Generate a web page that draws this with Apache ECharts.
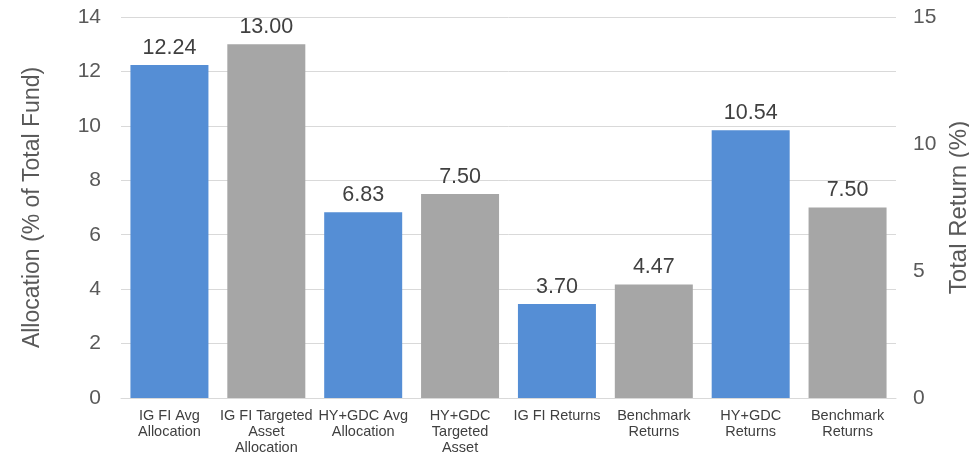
<!DOCTYPE html>
<html>
<head>
<meta charset="utf-8">
<script src="https://cdn.jsdelivr.net/npm/echarts@6/dist/echarts.min.js"></script>
<style>
  html, body { margin: 0; padding: 0; background: #fff; }
  #chart { width: 969px; height: 456px; }
</style>
</head>
<body>
<div id="chart"></div>
<script>
// Category labels along the x axis
const categories = [
  'IG FI Avg\nAllocation',
  'IG FI Targeted\nAsset\nAllocation',
  'HY+GDC Avg\nAllocation',
  'HY+GDC\nTargeted\nAsset',
  'IG FI Returns',
  'Benchmark\nReturns',
  'HY+GDC\nReturns',
  'Benchmark\nReturns'
];

// Allocation values (% of total fund), left axis
const allocationValues = [12.24, 13.00, 6.83, 7.50, null, null, null, null];
// Total return values (%), right axis
const returnValues = [null, null, null, null, 3.70, 4.47, 10.54, 7.50];

const BLUE = '#558ED5';
const GRAY = '#A6A6A6';
const barColors = [BLUE, GRAY, BLUE, GRAY, BLUE, GRAY, BLUE, GRAY];

const FONT = '"Liberation Sans", Arial, sans-serif';

function toData(values) {
  return values.map((v, i) => v === null ? '-' : { value: v, itemStyle: { color: barColors[i] } });
}

const labelStyle = {
  show: true,
  position: 'top',
  distance: 6,
  color: '#404040',
  fontSize: 21.5,
  fontFamily: FONT,
  formatter: p => Number(p.value).toFixed(2)
};

const chart = echarts.init(document.getElementById('chart'), null, { renderer: 'canvas' });
chart.setOption({
  animation: false,
  backgroundColor: '#ffffff',
  grid: {
    left: 121, right: 73, top: 17, bottom: 58,
    containLabel: false,
    outerBoundsMode: 'none'
  },
  xAxis: {
    type: 'category',
    data: categories,
    axisLine: { show: true, lineStyle: { color: '#D9D9D9', width: 1 } },
    axisTick: { show: false },
    axisLabel: {
      color: '#404040',
      fontSize: 14.5,
      fontFamily: FONT,
      lineHeight: 16,
      margin: 10,
      interval: 0
    }
  },
  yAxis: [
    {
      type: 'value',
      min: 0,
      max: 14,
      interval: 2,
      name: 'Allocation (% of Total Fund)',
      nameLocation: 'middle',
      nameGap: 77,
      nameTextStyle: { color: '#595959', fontSize: 23, fontFamily: FONT },
      axisLine: { show: false },
      axisTick: { show: false },
      axisLabel: { color: '#595959', fontSize: 21, fontFamily: FONT, margin: 20 },
      splitLine: { show: true, lineStyle: { color: '#D9D9D9', width: 1 } }
    },
    {
      type: 'value',
      min: 0,
      max: 15,
      interval: 5,
      name: 'Total Return (%)',
      nameLocation: 'middle',
      nameGap: 45,
      nameTextStyle: { color: '#595959', fontSize: 24, fontFamily: FONT },
      axisLine: { show: false },
      axisTick: { show: false },
      axisLabel: { color: '#595959', fontSize: 21, fontFamily: FONT, margin: 17 },
      splitLine: { show: false }
    }
  ],
  series: [
    {
      name: 'Allocation',
      type: 'bar',
      yAxisIndex: 0,
      data: toData(allocationValues),
      barWidth: 78,
      barGap: '-100%',
      label: labelStyle
    },
    {
      name: 'Total Return',
      type: 'bar',
      yAxisIndex: 1,
      data: toData(returnValues),
      barWidth: 78,
      barGap: '-100%',
      label: labelStyle
    }
  ]
});
</script>
</body>
</html>
